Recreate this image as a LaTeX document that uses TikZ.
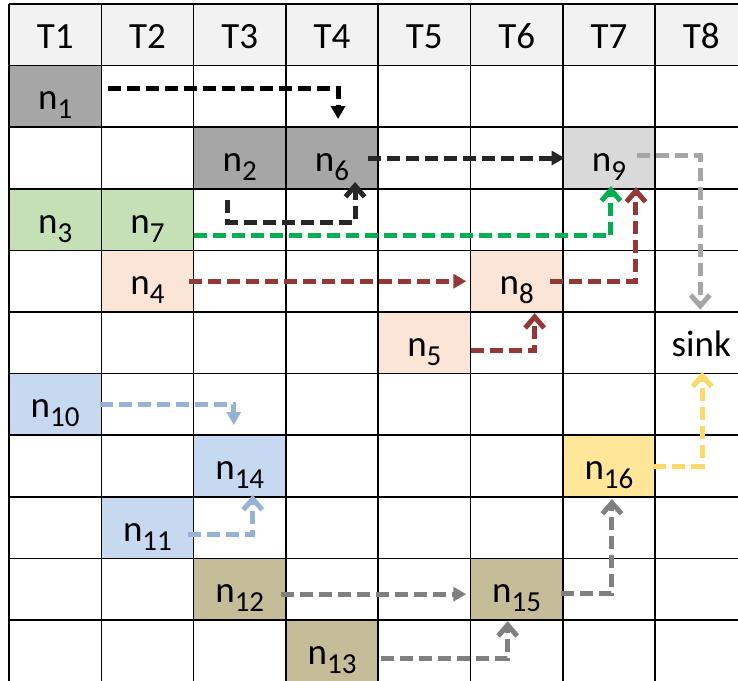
\documentclass[tikz,border=0pt]{standalone}
\usepackage{fontspec}
\setmainfont{Carlito}
\usepackage{xcolor}
\usepackage{tikz}
\usetikzlibrary{arrows.meta,calc}

\definecolor{headcell}{HTML}{F2F2F2}
\definecolor{darkcell}{HTML}{A6A6A6}
\definecolor{lightcell}{HTML}{D9D9D9}
\definecolor{greencell}{HTML}{C5E0B4}
\definecolor{peachcell}{HTML}{FBE5D6}
\definecolor{bluecell}{HTML}{C6D9F1}
\definecolor{khakicell}{HTML}{C4BD97}
\definecolor{goldcell}{HTML}{FFE699}
\definecolor{greenline}{HTML}{00B050}
\definecolor{redline}{HTML}{953735}
\definecolor{blueline}{HTML}{95B3D7}
\definecolor{paleline}{HTML}{A6A6A6}
\definecolor{grayline}{HTML}{808080}
\definecolor{goldline}{HTML}{FFD966}

\newcommand{\nsub}[1]{n\raisebox{-9pt}{\fontsize{29}{30}\selectfont #1}}

\begin{document}
\begin{tikzpicture}[x=92.3pt, y=61.6pt,
        font=\fontsize{37}{44}\selectfont,
        cell/.style={minimum width=92.3pt, minimum height=61.6pt, inner sep=0pt,
                text height=37pt, text depth=10pt},
        gridline/.style={line width=1.6pt, black},
        flow/.style={line width=5pt, dash pattern=on 13pt off 6pt},
        solidtip/.style={flow, -{Triangle[length=13pt,width=14pt]}},
        opentip/.style={flow, -{Straight Barb[length=11pt,width=19pt]}}
        ]
        \useasboundingbox (-9pt,4pt) rectangle (729pt,-676pt);
        \clip (-9pt,4pt) rectangle (729pt,-676pt);

        % ---------------- Header row ----------------
        \foreach \c in {1,...,8}
            \node[cell, fill=headcell] (h\c) at (\c-0.5,-0.5) {T\c};

        % ---------------- Task cells ----------------
        \node[cell, fill=darkcell]  (n1)   at (0.5,-1.5)  {\nsub{1}};
        \node[cell, fill=darkcell]  (n2)   at (2.5,-2.5)  {\nsub{2}};
        \node[cell, fill=darkcell]  (n6)   at (3.5,-2.5)  {\nsub{6}};
        \node[cell, fill=lightcell] (n9)   at (6.5,-2.5)  {\nsub{9}};
        \node[cell, fill=greencell] (n3)   at (0.5,-3.5)  {\nsub{3}};
        \node[cell, fill=greencell] (n7)   at (1.5,-3.5)  {\nsub{7}};
        \node[cell, fill=peachcell] (n4)   at (1.5,-4.5)  {\nsub{4}};
        \node[cell, fill=peachcell] (n8)   at (5.5,-4.5)  {\nsub{8}};
        \node[cell, fill=peachcell] (n5)   at (4.5,-5.5)  {\nsub{5}};
        \node[cell]                 (sink) at (7.5,-5.5)  {sink};
        \node[cell, fill=bluecell]  (n10)  at (0.5,-6.5)  {\nsub{10}};
        \node[cell, fill=bluecell]  (n14)  at (2.5,-7.5)  {\nsub{14}};
        \node[cell, fill=goldcell]  (n16)  at (6.5,-7.5)  {\nsub{16}};
        \node[cell, fill=bluecell]  (n11)  at (1.5,-8.5)  {\nsub{11}};
        \node[cell, fill=khakicell] (n12)  at (2.5,-9.5)  {\nsub{12}};
        \node[cell, fill=khakicell] (n15)  at (5.5,-9.5)  {\nsub{15}};
        \node[cell, fill=khakicell] (n13)  at (3.5,-10.5) {\nsub{13}};

        % ---------------- Grid ----------------
        \foreach \r in {0,...,11}
            \draw[gridline] (0,-\r) -- (8,-\r);
        \foreach \c in {0,...,8}
            \draw[gridline] (\c,0) -- (\c,-11);

        % ---------------- Gray chain ----------------
        \draw[solidtip, black] ([shift={(6pt,8pt)}]n1.east) -| ([shift={(6pt,8pt)}]n6.north);
        \draw[solidtip, black!85] ([xshift=-10pt]n6.east) -- ([xshift=2pt]n9.west);
        \draw[opentip, black!85] ([shift={(-12pt,-11pt)}]n2.south) -- ++(0,-22pt)
            -| ([shift={(23pt,7pt)}]n6.south);

        % ---------------- Green / orange chains ----------------
        \draw[opentip, greenline] ([yshift=-16pt]n7.east) -| ([shift={(2pt,3pt)}]n9.south);
        \draw[solidtip, redline] ([xshift=-5pt]n4.east) -- ([xshift=-4pt]n8.west);
        \draw[opentip, redline] ([xshift=-13pt]n8.east) -| ([shift={(27pt,2pt)}]n9.south);
        \draw[opentip, redline] ([yshift=-8pt]n5.east) -| ([shift={(18pt,-1pt)}]n8.south);

        % ---------------- Into the sink ----------------
        \draw[opentip, paleline] ([shift={(-18pt,3pt)}]n9.east) -| ([shift={(-1pt,2pt)}]sink.north);
        \draw[opentip, goldline] ([xshift=-2pt]n16.east) -| ([shift={(1pt,2pt)}]sink.south);

        % ---------------- Blue / khaki chains ----------------
        \draw[solidtip, blueline] ([xshift=-2pt]n10.east) -| ([shift={(-6pt,10pt)}]n14.north);
        \draw[opentip, blueline] ([shift={(-6pt,-7pt)}]n11.east) -| ([shift={(13pt,2pt)}]n14.south);
        \draw[solidtip, grayline] ([shift={(-5pt,-5pt)}]n12.east) -- ([shift={(-4pt,-5pt)}]n15.west);
        \draw[opentip, grayline] ([shift={(-2pt,-4pt)}]n15.east) -| ([shift={(3pt,-2pt)}]n16.south);
        \draw[opentip, grayline] ([shift={(3pt,-8pt)}]n13.east) -| ([shift={(-9pt,-1pt)}]n15.south);

\end{tikzpicture}
\end{document}
